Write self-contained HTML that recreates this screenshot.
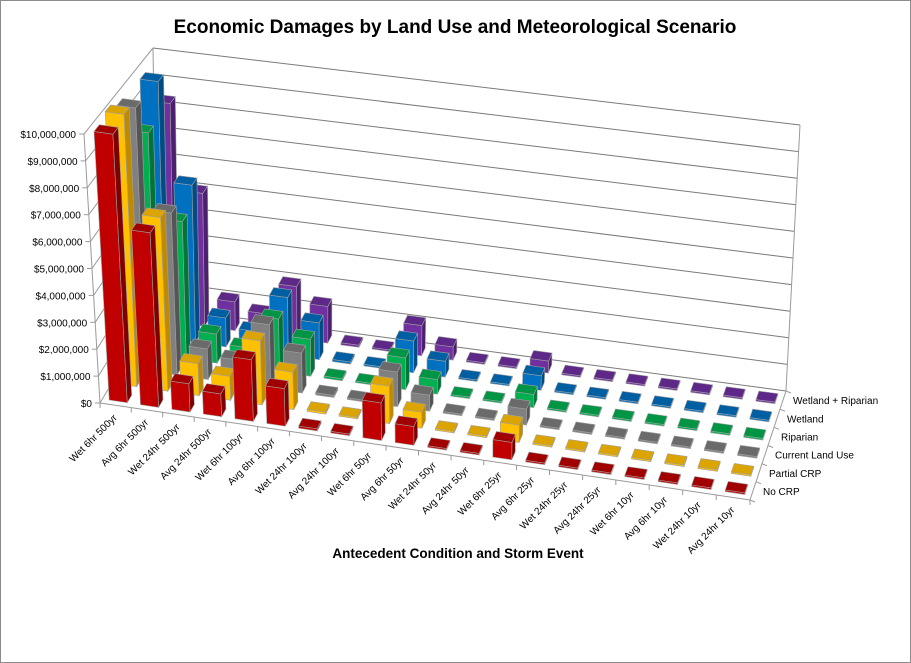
<!DOCTYPE html>
<html><head><meta charset="utf-8"><style>
html,body{margin:0;padding:0;background:#fff}
svg{display:block}
text{font-family:"Liberation Sans",sans-serif;fill:#000}
</style></head><body>
<svg id="chart" width="911" height="663" viewBox="0 0 911 663">
<rect x="0.5" y="0.5" width="910" height="662" fill="#fff" stroke="#8c8c8c"/>
<text x="455" y="33" text-anchor="middle" font-size="19" font-weight="bold">Economic Damages by Land Use and Meteorological Scenario</text>
<text x="458" y="558" text-anchor="middle" font-size="13.5" font-weight="bold">Antecedent Condition and Storm Event</text>
<g id="walls"></g><g id="bars"></g><g id="labels"></g>
</svg>
<script>
const categories=["Wet 6hr 500yr","Avg 6hr 500yr","Wet 24hr 500yr","Avg 24hr 500yr","Wet 6hr 100yr","Avg 6hr 100yr","Wet 24hr 100yr","Avg 24hr 100yr","Wet 6hr 50yr","Avg 6hr 50yr","Wet 24hr 50yr","Avg 24hr 50yr","Wet 6hr 25yr","Avg 6hr 25yr","Wet 24hr 25yr","Avg 24hr 25yr","Wet 6hr 10yr","Avg 6hr 10yr","Wet 24hr 10yr","Avg 24hr 10yr"];
const seriesNames=["No CRP","Partial CRP","Current Land Use","Riparian","Wetland","Wetland + Riparian"];
const noCRP=[10000000,6500000,1050000,850000,2300000,1400000,80000,60000,1400000,700000,60000,60000,650000,60000,60000,60000,60000,60000,60000,60000];
const partialCRP=[10200000,6500000,1200000,900000,2400000,1400000,80000,60000,1400000,600000,60000,60000,650000,60000,60000,60000,60000,60000,60000,60000];
const currentLandUse=[9900000,6100000,1150000,900000,2400000,1500000,80000,60000,1300000,600000,60000,60000,600000,60000,60000,60000,60000,60000,60000,60000];
const riparian=[8400000,5200000,1100000,750000,2000000,1400000,80000,60000,1200000,550000,60000,60000,500000,60000,60000,60000,60000,60000,60000,60000];
const wetland=[9800000,6000000,1100000,750000,2200000,1400000,80000,60000,1200000,600000,60000,60000,550000,60000,60000,60000,60000,60000,60000,60000];
const wetlandRiparian=[8400000,5100000,1100000,800000,2000000,1400000,80000,60000,1150000,500000,60000,60000,450000,60000,60000,60000,60000,60000,60000,60000];
const yTickLabels=["$0","$1,000,000","$2,000,000","$3,000,000","$4,000,000","$5,000,000","$6,000,000","$7,000,000","$8,000,000","$9,000,000","$10,000,000"];
const yTickValues=[0,1e6,2e6,3e6,4e6,5e6,6e6,7e6,8e6,9e6,1e7];

const allSeries=[noCRP,partialCRP,currentLandUse,riparian,wetland,wetlandRiparian];
const colors=[["#c00000","#7f0000","#a00000"],["#ffc000","#c08a00","#dca400"],["#808080","#555555","#6a6a6a"],["#00b050","#00753a","#009445"],["#0070c0","#004d86","#005ea2"],["#7030a0","#4c1f70","#5e2888"]];
const NS="http://www.w3.org/2000/svg";
const C={FL0:[100,403],FR0:[750,500],BR0:[786,391],BL0:[157,307],FL1:[84,134],FR1:[762,232],BR1:[800,125],BL1:[153,48]};
const VMAX=1e7;
function lerp(a,b,t){return [a[0]+(b[0]-a[0])*t,a[1]+(b[1]-a[1])*t];}
function P(u,v,w){
  const g=0.96*u+0.04*u*u;
  const f0=lerp(C.FL0,C.FR0,g),b0=lerp(C.BL0,C.BR0,g),f1=lerp(C.FL1,C.FR1,g),b1=lerp(C.BL1,C.BR1,g);
  const lo=lerp(f0,b0,v),hi=lerp(f1,b1,v);return lerp(lo,hi,w);}
function xU(i,frac){return (i+frac)/categories.length;}
function zV(j,frac){return (j+frac)/seriesNames.length;}
function yW(val){return val/VMAX;}
function poly(parent,pts,fill,stroke,name){const p=document.createElementNS(NS,'polygon');
  p.setAttribute('points',pts.map(q=>q[0].toFixed(1)+','+q[1].toFixed(1)).join(' '));
  p.setAttribute('fill',fill);p.setAttribute('stroke',stroke);p.setAttribute('stroke-width','0.6');
  
  
  parent.appendChild(p);return p;}
function line(parent,a,b,stroke,name){const l=document.createElementNS(NS,'line');
  l.setAttribute('x1',a[0]);l.setAttribute('y1',a[1]);l.setAttribute('x2',b[0]);l.setAttribute('y2',b[1]);
  l.setAttribute('stroke',stroke);l.setAttribute('stroke-width','1');
  
  
  parent.appendChild(l);}
function txt(parent,x,y,s,anchor,size,rot,name){const t=document.createElementNS(NS,'text');
  t.setAttribute('x',x);t.setAttribute('y',y);t.setAttribute('text-anchor',anchor);t.setAttribute('font-size',size);
  if(rot)t.setAttribute('transform','rotate('+rot+' '+x+' '+y+')');t.textContent=s;
  
  
  parent.appendChild(t);}
const walls=document.getElementById('walls'),bars=document.getElementById('bars'),labels=document.getElementById('labels');
yTickValues.forEach((val,k)=>{const w=yW(val);
  line(walls,P(0,0,w),P(0,1,w),'#9a9a9a','left-wall-gridline');
  line(walls,P(0,1,w),P(1,1,w),'#7a7a7a','back-wall-gridline');
  const a=P(0,0,w);line(walls,[a[0]-5,a[1]],a,'#9a9a9a','y-tick');
  txt(labels,a[0]-8,a[1]+4,yTickLabels[k],'end',10,0,'y-tick-label');});
line(walls,P(0,0,0),P(0,0,1),'#9a9a9a','left-wall-front-edge');
line(walls,P(0,1,0),P(0,1,1),'#9a9a9a','back-left-edge');
line(walls,P(1,1,0),P(1,1,1),'#9a9a9a','back-right-edge');
line(walls,P(0,0,0),P(1,0,0),'#9a9a9a','floor-front-edge');
line(walls,P(1,0,0),P(1,1,0),'#9a9a9a','floor-right-edge');
for(let i=0;i<=categories.length;i++){const a=P(xU(i,0),0,0);line(walls,a,[a[0],a[1]+5],'#9a9a9a','x-tick');}
for(let j=0;j<=seriesNames.length;j++){const a=P(1,zV(j,0),0);line(walls,a,[a[0]+5,a[1]+2],'#9a9a9a','z-tick');}
for(let j=seriesNames.length-1;j>=0;j--){
  for(let i=0;i<categories.length;i++){
    const val=allSeries[j][i],w=yW(val),c=colors[j];
    const u0=xU(i,0.22),u1=xU(i,0.8),v0=zV(j,0.25),v1=zV(j,0.72);
    const g=document.createElementNS(NS,'g');
    
    
    bars.appendChild(g);
    poly(g,[P(u0,v0,0),P(u1,v0,0),P(u1,v0,w),P(u0,v0,w)],c[0],'#a0a0a0','bar-front-face');
    poly(g,[P(u1,v0,0),P(u1,v1,0),P(u1,v1,w),P(u1,v0,w)],c[1],'#a0a0a0','bar-side-face');
    poly(g,[P(u0,v0,w),P(u1,v0,w),P(u1,v1,w),P(u0,v1,w)],c[2],'#a0a0a0','bar-top-face');
  }}
categories.forEach((s,i)=>{const a=P(xU(i,0.5),0,0);txt(labels,a[0]+2,a[1]+13,s,'end',10,-45,'category-label');});
seriesNames.forEach((s,j)=>{const a=P(1,zV(j,0.5),0);txt(labels,a[0]+10,a[1]+4,s,'start',10,0,'series-label');});
</script>
</body></html>
